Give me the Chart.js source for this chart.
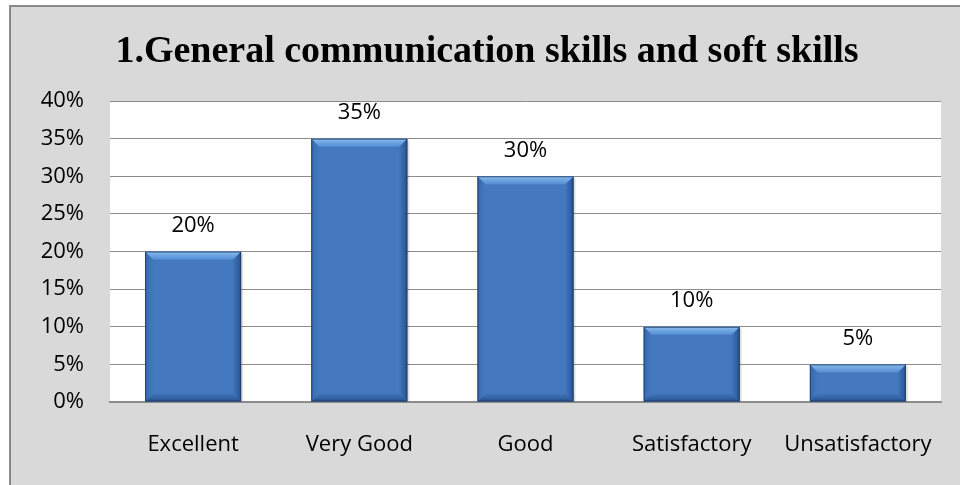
<!DOCTYPE html>
<html>
<head>
<meta charset="utf-8">
<script src="https://cdn.jsdelivr.net/npm/chart.js@4"></script>
<style>
  html, body { margin: 0; padding: 0; background: #ffffff; }
  #wrap { position: absolute; left: 0; top: 0; width: 960px; height: 485px; }
  canvas { display: block; }
</style>
</head>
<body>
<div id="wrap"><canvas id="c" width="960" height="485"></canvas></div>
<script>
const titleText = "1.General communication skills and soft skills";
const categories = ["Excellent", "Very Good", "Good", "Satisfactory", "Unsatisfactory"];
const percentValues = [20, 35, 30, 10, 5];
const yTicks = [0, 5, 10, 15, 20, 25, 30, 35, 40];

const frame = {
  id: 'frame',
  beforeDraw(chart) {
    const ctx = chart.ctx;
    ctx.save();
    ctx.fillStyle = '#ffffff';
    ctx.fillRect(0, 0, chart.width, chart.height);
    ctx.fillStyle = '#d9d9d9';
    ctx.fillRect(9, 5, chart.width - 9, chart.height - 5);
    ctx.fillStyle = '#8a8a8a';
    ctx.fillRect(9, 5, chart.width - 9, 2);
    ctx.fillRect(9, 5, 2, chart.height - 5);
    const a = chart.chartArea;
    ctx.fillStyle = '#ffffff';
    ctx.fillRect(a.left, a.top, a.right - a.left, a.bottom - a.top);
    ctx.restore();
  }
};

const bevel = {
  id: 'bevel',
  beforeDatasetsDraw(chart) {
    const ctx = chart.ctx;
    const meta = chart.getDatasetMeta(0);
    ctx.save();
    ctx.fillStyle = 'rgba(0,0,0,0.12)';
    meta.data.forEach((bar) => {
      const l = bar.x - bar.width / 2, r = bar.x + bar.width / 2;
      ctx.fillRect(l + 2, bar.y + 2, r - l, bar.base - bar.y - 2);
    });
    ctx.restore();
  },
  afterDatasetsDraw(chart) {
    const ctx = chart.ctx;
    const meta = chart.getDatasetMeta(0);
    ctx.save();
    meta.data.forEach((bar) => {
      const l = bar.x - bar.width / 2, r = bar.x + bar.width / 2;
      const t = bar.y, b = bar.base;
      const s = Math.min(8, (b - t) / 2);
      let g = ctx.createLinearGradient(0, t, 0, t + s);
      g.addColorStop(0, 'rgba(150,200,245,0.9)');
      g.addColorStop(1, 'rgba(110,170,235,0.45)');
      ctx.fillStyle = g;
      ctx.beginPath(); ctx.moveTo(l, t); ctx.lineTo(r, t); ctx.lineTo(r - s, t + s); ctx.lineTo(l + s, t + s); ctx.closePath(); ctx.fill();
      g = ctx.createLinearGradient(l, 0, l + s, 0);
      g.addColorStop(0, 'rgba(40,85,150,0.55)');
      g.addColorStop(1, 'rgba(60,110,180,0.1)');
      ctx.fillStyle = g;
      ctx.beginPath(); ctx.moveTo(l, t); ctx.lineTo(l + s, t + s); ctx.lineTo(l + s, b - s); ctx.lineTo(l, b); ctx.closePath(); ctx.fill();
      g = ctx.createLinearGradient(r, 0, r - s, 0);
      g.addColorStop(0, 'rgba(25,60,115,0.7)');
      g.addColorStop(1, 'rgba(40,85,150,0.15)');
      ctx.fillStyle = g;
      ctx.beginPath(); ctx.moveTo(r, t); ctx.lineTo(r - s, t + s); ctx.lineTo(r - s, b - s); ctx.lineTo(r, b); ctx.closePath(); ctx.fill();
      g = ctx.createLinearGradient(0, b, 0, b - s);
      g.addColorStop(0, 'rgba(25,60,115,0.7)');
      g.addColorStop(1, 'rgba(40,85,150,0.15)');
      ctx.fillStyle = g;
      ctx.beginPath(); ctx.moveTo(l, b); ctx.lineTo(l + s, b - s); ctx.lineTo(r - s, b - s); ctx.lineTo(r, b); ctx.closePath(); ctx.fill();
      ctx.strokeStyle = 'rgba(30,60,105,0.85)';
      ctx.lineWidth = 1;
      ctx.strokeRect(l + 0.5, t + 0.5, r - l - 1, b - t - 1);
    });
    ctx.restore();
  }
};

const valueLabels = {
  id: 'valueLabels',
  afterDatasetsDraw(chart) {
    const ctx = chart.ctx;
    const meta = chart.getDatasetMeta(0);
    ctx.save();
    ctx.font = '22px "Open Sans"';
    ctx.fillStyle = '#000000';
    ctx.textAlign = 'center';
    ctx.textBaseline = 'middle';
    meta.data.forEach((bar, i) => {
      ctx.fillText(percentValues[i] + '%', bar.x, bar.y - 26);
    });
    ctx.restore();
  }
};

new Chart(document.getElementById('c'), {
  type: 'bar',
  data: {
    labels: categories,
    datasets: [{
      data: percentValues,
      backgroundColor: (ctx) => {
        const chart = ctx.chart;
        const el = ctx.element;
        if (!el || !chart.chartArea || !Number.isFinite(el.y) || !Number.isFinite(el.base)) return '#4479c0';
        const g = chart.ctx.createLinearGradient(0, el.y, 0, el.base);
        g.addColorStop(0, '#4b89d3');
        g.addColorStop(1, '#3968aa');
        return g;
      },
      borderWidth: 0,
      categoryPercentage: 0.578,
      barPercentage: 1.0
    }]
  },
  options: {
    responsive: false,
    animation: false,
    devicePixelRatio: 1,
    layout: { padding: { left: 33, right: 19, top: 0, bottom: 0 } },
    plugins: {
      legend: { display: false },
      tooltip: { enabled: false },
      title: {
        display: true,
        text: titleText,
        color: '#000000',
        font: { family: '"Liberation Serif", "Times New Roman", serif', size: 38, weight: 'bold', lineHeight: 1.2 },
        padding: { top: 29, bottom: 26.4 }
      }
    },
    scales: {
      x: {
        grid: { display: false, drawTicks: false },
        border: { display: true, color: '#8c8c8c', width: 2 },
        ticks: { color: '#000000', font: { family: '"Open Sans"', size: 22 }, padding: 30, maxRotation: 0, autoSkip: false },
        afterFit(scale) { scale.height = 83; scale.paddingLeft = 0; scale.paddingRight = 0; }
      },
      y: {
        min: 0, max: 40,
        afterBuildTicks(scale) { scale.ticks = yTicks.map(v => ({ value: v })); },
        grid: { color: '#8c8c8c', lineWidth: 1, drawTicks: false },
        border: { display: false },
        ticks: {
          color: '#000000',
          font: { family: '"Open Sans"', size: 22 },
          padding: 26,
          callback: (v) => v + '%'
        },
        afterFit(scale) { scale.width = 77; }
      }
    }
  },
  plugins: [frame, bevel, valueLabels]
});
</script>
</body>
</html>
